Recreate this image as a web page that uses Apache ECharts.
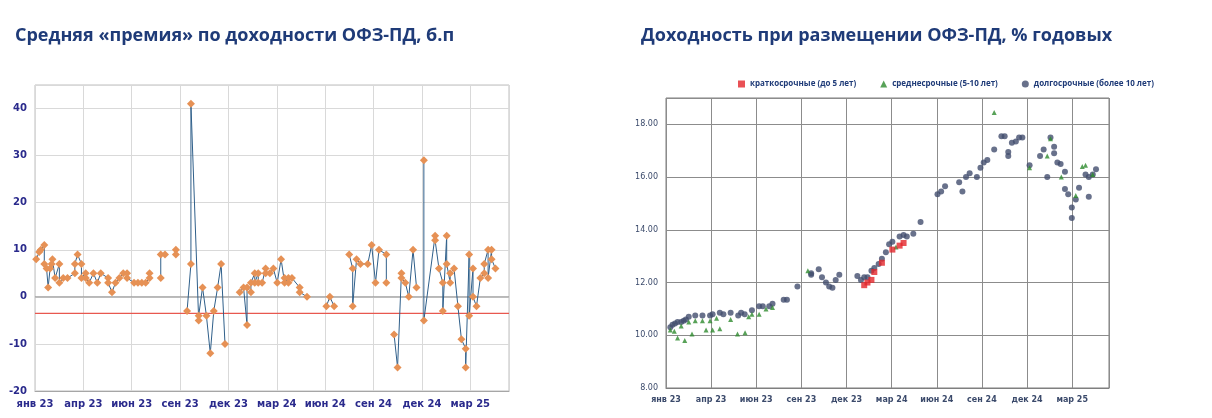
<!DOCTYPE html>
<html><head><meta charset="utf-8">
<script src="https://cdn.jsdelivr.net/npm/echarts@6/dist/echarts.min.js"></script>
<style>body{margin:0;background:#fff}#c{width:1212px;height:418px}</style>
</head><body><div id="c"></div>
<script>
// x = номер недели от начала янв 23, шаг подписи 12.5 недель
const tickLabels = ['янв 23','апр 23','июн 23','сен 23','дек 23','мар 24','июн 24','сен 24','дек 24','мар 25'];

// премия, б.п. (null = разрыв)
const premX = [0.3,1.1,1.5,2.4,2.4,3,3.4,3.9,4.3,4.5,5.2,6.3,6.3,7.3,8.4,10.3,10.3,11,12,12,13.1,13.1,14,15.1,16.1,17,18.9,18.9,19.9,20.8,21.8,22.8,23.8,23.8,25.6,26.6,27.6,28.6,29.6,29.6,31,32.5,32.5,33.6,35,36.4,36.4,38,39.3,40.3,40.3,42.3,42.3,43.3,44.3,45.3,46.2,47.2,48.1,49.1,51,52.9,53.9,54.8,54.8,55.8,55.8,56.8,56.8,57.7,57.7,58.7,59.6,59.6,60.7,61.6,62.6,63.6,64.5,64.5,65.5,65.5,66.4,68.4,68.4,70.3,73,75.3,76.2,77.3,79,81.2,82.1,82.1,83.1,84.1,86,87,88,88.9,90.8,90.8,92,92.8,93.7,94.7,94.7,95.7,96.6,97.7,98.6,99.5,100.5,100.5,103.4,103.4,104.4,105.4,105.4,106.4,106.4,107.3,107.3,108.3,109.3,110.2,111.3,111.3,112.2,112.2,113.2,113.2,114.1,115.1,116.1,116.1,117.1,117.1,118,118,119];
const premY = [8,9.5,10,11,7,6,2,6,7,8,4,7,3,4,4,5,7,9,7,4,5,4,3,5,3,5,4,3,1,3,4,5,5,4,3,3,3,3,4,5,null,4,9,9,null,10,9,null,-3,7,41,-5,-4,2,-4,-12,-3,2,7,-10,null,1,2,-6,2,1,3,5,3,5,3,3,6,5,5,6,3,8,3,4,3,4,4,2,1,0,null,-2,0,-2,null,9,6,-2,8,7,7,11,3,10,9,3,null,-8,-15,5,4,3,0,10,2,null,29,-5,13,12,6,3,-3,13,7,3,5,6,-2,-9,-11,-15,9,-4,6,0,-2,4,5,7,10,4,10,8,6];
const redLine = -3.5;

// доходность, % годовых
const longX = [1.2,1.8,2.5,3.2,4.2,4.9,5.5,6.3,8.1,10.1,12.2,12.9,14.9,15.9,17.9,20,20.8,21.8,23.8,25.8,26.8,28.6,29.5,32.6,33.5,36.4,40.2,40.2,42.3,43.2,44.3,45.2,46.1,47,48,53,54,54.9,55.8,56.9,57.7,58.9,59.8,60.9,61.8,62.7,64.7,65.8,66.7,68.5,70.5,75.2,76.2,77.3,81.2,82.1,83.1,84.1,86.1,87.1,88,89,90.9,92.9,93.8,94.8,94.8,95.8,96.9,97.8,98.7,100.7,103.6,104.6,105.6,106.5,107.5,107.5,108.4,109.3,110.5,110.5,111.4,112.4,112.4,113.5,114.4,116.2,117.1,117.1,118.2,119.1];
const longY = [10.3,10.4,10.45,10.5,10.5,10.55,10.6,10.7,10.75,10.75,10.75,10.8,10.85,10.8,10.85,10.75,10.85,10.8,10.95,11.1,11.1,11.1,11.2,11.35,11.35,11.85,12.35,12.3,12.5,12.2,12.0,11.85,11.8,12.1,12.3,12.25,12.1,12.2,12.2,12.45,12.55,12.7,12.9,13.15,13.45,13.55,13.75,13.8,13.75,13.85,14.3,15.35,15.45,15.65,15.8,15.45,16.0,16.15,16.0,16.35,16.55,16.65,17.05,17.55,17.55,16.95,16.8,17.3,17.35,17.5,17.5,16.45,16.8,17.05,16.0,17.5,17.15,16.9,16.55,16.5,16.2,15.55,15.35,14.85,14.45,15.15,15.6,16.1,16.0,15.25,16.1,16.3];
const midX = [1.2,2.3,3.2,4.2,5.2,6.3,7.2,8.1,10.1,11.1,12.2,12.9,14,14.9,17.9,19.8,21.9,22.9,23.8,25.8,27.7,29.5,39.3,63.7,90.9,100.7,105.6,106.5,109.5,113.5,115.3,116.2,118.2];
const midY = [10.2,10.15,9.9,10.35,9.8,10.5,10.05,10.55,10.55,10.2,10.55,10.2,10.65,10.25,10.6,10.05,10.1,10.7,10.8,10.8,11.0,11.05,12.45,13.35,18.45,16.35,16.8,17.45,16.0,15.3,16.4,16.45,16.1];
const shortX = [54.9,55.8,56.9,57.7,59.8,62.7,64.7,65.8];
const shortY = [11.9,12.0,12.1,12.4,12.75,13.25,13.4,13.5];

const zip = (xs, ys) => xs.map((x, i) => [x, ys[i]]);

const chart = echarts.init(document.getElementById('c'));
const textFont = 'Verdana, DejaVu Sans, sans-serif';
const titleStyle = {color: '#1f3b78', fontSize: 18, fontWeight: 'bold', fontFamily: 'Open Sans'};
const fmtX = v => tickLabels[Math.round(v / 12.5)] || '';

chart.setOption({
    title: [
        {text: 'Средняя «премия» по доходности ОФЗ-ПД, б.п', left: 10, top: 22, textStyle: titleStyle},
        {text: 'Доходность при размещении ОФЗ-ПД, % годовых', left: 636, top: 22, textStyle: titleStyle},
    ],
    legend: {
        top: 75, left: 733, itemGap: 24, itemWidth: 7, itemHeight: 7,
        textStyle: {fontSize: 8, color: '#1f3b78', fontFamily: 'Open Sans', fontWeight: 'bold'},
        data: ['краткосрочные (до 5 лет)', 'среднесрочные (5-10 лет)', 'долгосрочные (более 10 лет)'],
    },
    grid: [
        {left: 35, top: 85, width: 474, height: 306, show: true, borderColor: '#bfbfbf', borderWidth: 1},
        {left: 666, top: 98, width: 443, height: 290, show: true, borderColor: '#7f7f7f', borderWidth: 1},
    ],
    xAxis: [
        {type: 'value', gridIndex: 0, min: 0, max: 122.5, interval: 12.5,
            axisTick: {show: false},
            splitLine: {show: true, lineStyle: {color: '#d9d9d9'}},
            axisLine: {onZero: false, lineStyle: {color: '#a6a6a6'}},
            axisLabel: {color: '#2a2a8c', fontWeight: 'bold', fontSize: 10, fontFamily: textFont,
                formatter: fmtX, showMaxLabel: false}},
        {type: 'value', gridIndex: 1, min: 0, max: 122.7, interval: 12.5,
            axisTick: {show: false},
            splitLine: {show: true, lineStyle: {color: '#8c8c8c'}},
            axisLine: {onZero: false, lineStyle: {color: '#7f7f7f'}},
            axisLabel: {color: '#3b4a6b', fontWeight: 'bold', fontSize: 8, fontFamily: textFont,
                formatter: fmtX, showMaxLabel: false}},
    ],
    yAxis: [
        {type: 'value', gridIndex: 0, min: -20, max: 45, interval: 10,
            axisLine: {show: false}, axisTick: {show: false},
            splitLine: {lineStyle: {color: '#d9d9d9'}},
            axisLabel: {color: '#2a2a8c', fontWeight: 'bold', fontSize: 10, fontFamily: textFont,
                showMaxLabel: false}},
        {type: 'value', gridIndex: 1, min: 8, max: 19, interval: 2,
            axisLine: {show: false}, axisTick: {show: false},
            splitLine: {lineStyle: {color: '#8c8c8c'}},
            axisLabel: {color: '#3b4a6b', fontSize: 8, fontFamily: textFont,
                formatter: v => v.toFixed(2), showMaxLabel: false}},
    ],
    series: [
        {type: 'line', xAxisIndex: 0, yAxisIndex: 0, data: [[0, 0], [122.5, 0]],
            symbol: 'none', silent: true, lineStyle: {color: '#a0a0a0', width: 1.2}},
        {type: 'line', xAxisIndex: 0, yAxisIndex: 0, data: [[0, redLine], [122.5, redLine]],
            symbol: 'none', silent: true, lineStyle: {color: '#e8584f', width: 1.2}},
        {type: 'line', xAxisIndex: 0, yAxisIndex: 0, data: zip(premX, premY),
            symbol: 'diamond', symbolSize: 8, connectNulls: false,
            lineStyle: {color: '#2f5f8a', width: 1},
            itemStyle: {color: '#e69155'}},
        {name: 'долгосрочные (более 10 лет)', type: 'scatter', xAxisIndex: 1, yAxisIndex: 1,
            data: zip(longX, longY), symbol: 'circle', symbolSize: 6, itemStyle: {color: '#424e6e'}},
        {name: 'среднесрочные (5-10 лет)', type: 'scatter', xAxisIndex: 1, yAxisIndex: 1,
            data: zip(midX, midY), symbol: 'triangle', symbolSize: 5, itemStyle: {color: '#2e8b2e'}},
        {name: 'краткосрочные (до 5 лет)', type: 'scatter', xAxisIndex: 1, yAxisIndex: 1,
            data: zip(shortX, shortY), symbol: 'rect', symbolSize: 6, itemStyle: {color: '#e3262b'}},
    ],
});
</script></body></html>
